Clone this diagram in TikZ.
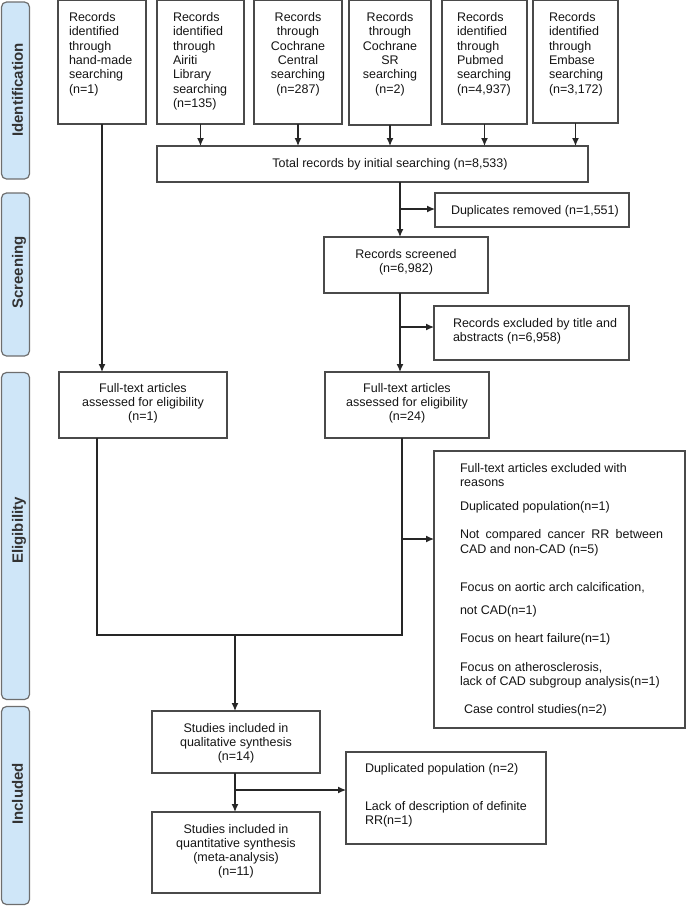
\documentclass[tikz,border=0pt]{standalone}
\usepackage{fontspec}
\setmainfont{Liberation Sans}
\usetikzlibrary{arrows.meta}
\definecolor{sidefill}{HTML}{CFE6F8}
\definecolor{sideline}{HTML}{6E6E6E}
\definecolor{boxline}{HTML}{4A4A4A}
\definecolor{arrline}{HTML}{262626}
\newcommand\mybox[7]{\node[box, anchor=north west] (#1) at (#2,#3) {\parbox[c][\dimexpr #5pt-#3pt\relax][t]{\dimexpr #4pt-#2pt\relax}{\vspace*{#6pt}#7}};}
\tikzset{
  box/.style={draw=boxline, line width=1.1pt, inner sep=0pt, outer sep=0pt, font=\fontsize{12.5}{14.3}\selectfont, text=black!92},
  arr/.style={draw=arrline, line width=1.2pt, -{Latex[length=8pt,width=7pt]}},
  ln/.style={draw=arrline, line width=1.2pt},
  side/.style={draw=sideline, fill=sidefill, line width=1.2pt, rounded corners=5pt, inner sep=0pt},
  sidelabel/.style={rotate=90, anchor=base west, inner sep=0pt, font=\fontsize{15}{17}\selectfont\bfseries, text=black!80}
}
\begin{document}
\begin{tikzpicture}[x=1pt,y=-1pt]
\useasboundingbox (0,0) rectangle (686,906);
% side labels
\node[side, minimum width=28pt, minimum height=177pt] (sI) at (15.5,90.5) {};
\node[side, minimum width=28pt, minimum height=163pt] (sS) at (15.5,274.5) {};
\node[side, minimum width=28pt, minimum height=327pt] (sE) at (15.5,536) {};
\node[side, minimum width=28pt, minimum height=198pt] (sN) at (15.5,805.5) {};
\node[sidelabel] (tI) at (23,137) {Identification};
\node[sidelabel] (tS) at (23,309) {Screening};
\node[sidelabel] (tE) at (23,564) {Eligibility};
\node[sidelabel] (tN) at (23,825) {Included};
% top boxes
\mybox{b1}{58}{0.6}{146}{124}{12}{\raggedright\leftskip=11pt Records\\identified\\through\\hand-made\\searching\\(n=1)}
\mybox{b2}{157}{0.6}{244}{124}{12}{\raggedright\leftskip=16pt Records\\identified\\through\\Airiti\\Library\\searching\\(n=135)}
\mybox{b3}{254}{0.6}{342}{124}{12}{\centering Records\\through\\Cochrane\\Central\\searching\\(n=287)}
\mybox{b4}{349}{0.6}{431}{125}{12}{\centering Records\\through\\Cochrane\\SR\\searching\\(n=2)}
\mybox{b5}{442}{0.6}{527}{124}{12}{\raggedright\leftskip=15pt Records\\identified\\through\\Pubmed\\searching\\(n=4,937)}
\mybox{b6}{533}{0.6}{618}{123}{12}{\raggedright\leftskip=16pt Records\\identified\\through\\Embase\\searching\\(n=3,172)}
\mybox{total}{157}{146}{588}{182}{12.5}{\centering\hspace*{35pt}Total records by initial searching (n=8,533)}
\mybox{dup}{435}{193}{629}{227}{12.5}{\raggedright\leftskip=16pt Duplicates removed (n=1,551)}
\mybox{scr}{324}{237}{488}{293}{12}{\centering Records screened\\(n=6,982)}
\mybox{excl}{434}{306}{629}{360}{12}{\raggedright\leftskip=19pt Records excluded by title and\\abstracts (n=6,958)}
\mybox{ft1}{59}{372}{227}{438}{11}{\centering Full-text articles\\assessed for eligibility\\(n=1)}
\mybox{ft2}{325}{372}{489}{438}{11}{\centering Full-text articles\\assessed for eligibility\\(n=24)}
\mybox{reasons}{434}{451}{685}{728}{12.5}{\raggedright\leftskip=26pt Full-text articles excluded with\\reasons\\[9.7pt]Duplicated population(n=1)\\[13.7pt]\makebox[203pt][s]{Not compared cancer RR between}\\CAD and non-CAD (n=5)\\[23.7pt]Focus on aortic arch calcification,\\[8.7pt]not CAD(n=1)\\[13.7pt]Focus on heart failure(n=1)\\[14.7pt]Focus on atherosclerosis,\\lack of CAD subgroup analysis(n=1)\\[13.7pt]\hspace*{4pt}Case control studies(n=2)}
\mybox{qual}{152}{711}{320}{773}{12}{\centering Studies included in\\qualitative synthesis\\(n=14)}
\mybox{quant}{152}{812}{320}{893}{12}{\centering Studies included in\\quantitative synthesis\\(meta-analysis)\\(n=11)}
\mybox{dup2}{346}{752}{546}{844}{11.5}{\raggedright\leftskip=19pt Duplicated population (n=2)\\[23.7pt]Lack of description of definite\\RR(n=1)}
% connectors
\foreach \b in {b2,b3,b4,b5,b6} \draw[arr] (\b.south) -- (\b.south |- total.north);
\draw[arr] (b1.south) -- (b1.south |- ft1.north);
\coordinate (sp) at (400,0);
\draw[arr] (total.south -| sp) -- (scr.north -| sp);
\coordinate (d1) at (400,209);
\draw[arr] (d1) -- (d1 -| dup.west);
\draw[arr] (scr.south -| sp) -- (ft2.north -| sp);
\coordinate (e1) at (400,327);
\draw[arr] (e1) -- (e1 -| excl.west);
\coordinate (jL) at (97,635);
\coordinate (jR) at (402,635);
\coordinate (jM) at (235,635);
\draw[ln] (ft1.south -| jL) -- (jL) -- (jR) -- (ft2.south -| jR);
\coordinate (r1) at (402,539);
\draw[arr] (r1) -- (r1 -| reasons.west);
\draw[arr] (jM) -- (jM |- qual.north);
\coordinate (q) at (235,0);
\draw[arr] (qual.south -| q) -- (quant.north -| q);
\coordinate (d2) at (235,790);
\draw[arr] (d2) -- (d2 -| dup2.west);
\end{tikzpicture}
\end{document}
